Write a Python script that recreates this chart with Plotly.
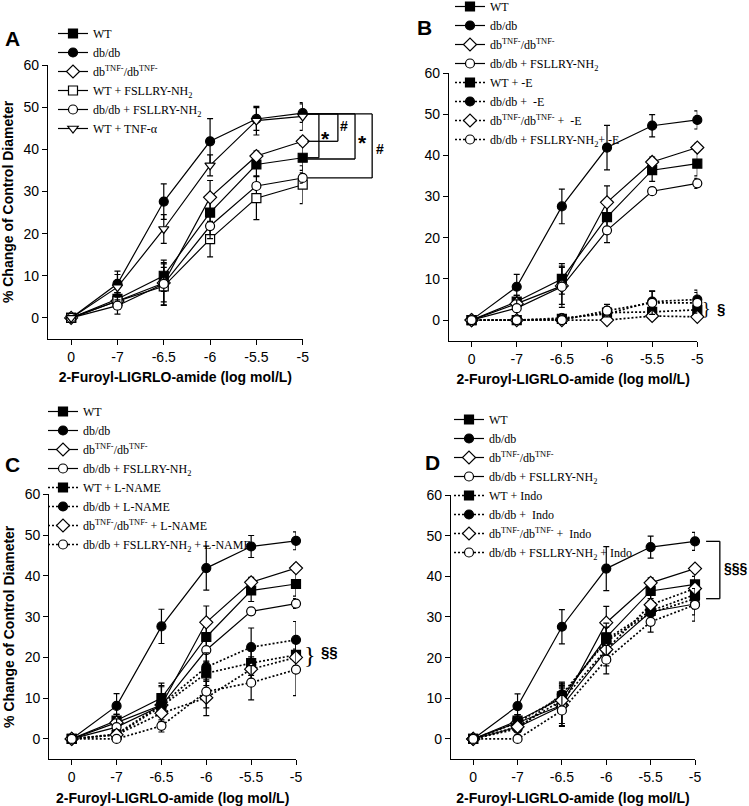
import plotly.graph_objects as go

W, H = 749, 806

# ---------------- data ----------------
x_idx = [0, 1, 2, 3, 4, 5]
x_labels = ["0", "-7", "-6.5", "-6", "-5.5", "-5"]

# common series (panels A-D)
wt = [0, 4.5, 10.0, 25.0, 36.4, 38.0]
wt_err = [0, 1.5, 3.7, 3.5, 2.7, 3.0]
dbdb = [0, 8.1, 27.6, 41.9, 47.2, 48.6]
dbdb_err = [0, 3.0, 4.2, 5.4, 2.7, 2.2]
dbtnf = [0, 4.0, 8.3, 28.6, 38.4, 41.9]
dbtnf_err = [0, 2.0, 4.5, 4.0, 1.2, 1.0]
dbdb_fs = [0, 2.9, 8.1, 21.8, 31.3, 33.2]
dbdb_fs_err = [0, 2.0, 5.0, 3.0, 0.8, 1.2]

# panel A extra
wt_fs = [0, 4.0, 7.5, 18.7, 28.4, 31.6]
wt_fs_err = [0, 2.0, 4.5, 4.2, 5.1, 4.5]
wt_tnf = [0, 7.3, 21.1, 36.2, 46.8, 47.8]
wt_tnf_err = [0, 3.0, 3.4, 2.5, 3.4, 3.3]

# panel B (-E)
wt_e = [0, 0, 0.3, 1.8, 2.0, 2.5]
wt_e_err = [0, 0.5, 0.5, 1.5, 1.5, 1.5]
dbdb_e = [0, 0, 0.5, 1.5, 4.5, 5.0]
dbdb_e_err = [0, 0.5, 0.5, 1.5, 2.6, 2.3]
dbtnf_e = [0, 0, 0, 0, 1.0, 0.8]
dbtnf_e_err = [0, 0.3, 0.3, 0.5, 0.8, 0.8]
dbdb_fs_e = [0, 0, 0, 2.3, 4.2, 4.2]
dbdb_fs_e_err = [0, 0.3, 0.5, 1.5, 2.8, 2.5]

# panel C (L-NAME)
wt_ln = [0, 1.0, 8.0, 16.1, 18.6, 20.6]
wt_ln_err = [0, 1.0, 2.0, 3.0, 3.0, 3.0]
dbdb_ln = [0, 1.2, 8.4, 17.6, 22.5, 24.3]
dbdb_ln_err = [0, 1.0, 2.0, 3.5, 4.7, 4.5]
dbtnf_ln = [0, 1.0, 6.3, 10.1, 17.1, 20.0]
dbtnf_ln_err = [0, 1.0, 2.0, 4.4, 3.0, 2.0]
dbdb_fs_ln = [0, 0, 3.2, 11.6, 13.8, 17.0]
dbdb_fs_ln_err = [0, 0.5, 1.5, 4.0, 4.2, 6.4]

# panel D (Indo)
wt_in = [0, 4.0, 10.5, 24.5, 31.5, 35.5]
wt_in_err = [0, 2.0, 3.0, 4.0, 3.0, 3.0]
dbdb_in = [0, 2.5, 11.0, 24.0, 31.0, 34.5]
dbdb_in_err = [0, 2.0, 3.0, 3.5, 3.0, 4.0]
dbtnf_in = [0, 3.0, 9.5, 22.0, 33.0, 37.0]
dbtnf_in_err = [0, 2.0, 3.0, 4.0, 3.0, 3.0]
dbdb_fs_in = [0, 0, 7.0, 19.5, 28.8, 33.0]
dbdb_fs_in_err = [0, 0.5, 3.7, 3.5, 2.5, 4.0]

TNF = "db<sup>TNF-</sup>/db<sup>TNF-</sup>"
FS = "FSLLRY-NH<sub>2</sub>"

# ---------------- layout geometry (pixels) ----------------
# left, right (x of category 5), top (y=60), bottom (y=-5)
geom = {
    1: (48, 302.7, 65, 339),
    2: (449, 697.3, 73, 340.7),
    3: (49.3, 296, 494.3, 759.3),
    4: (451, 695, 495, 759.3),
}
XR = [-0.5, 5]
YR = [-5, 60]

def dom_x(p):
    l, r, t, b = geom[p]
    return [l / W, r / W]

def dom_y(p):
    l, r, t, b = geom[p]
    return [1 - b / H, 1 - t / H]

def px(p, xv):
    d = dom_x(p)
    return d[0] + (xv - XR[0]) / (XR[1] - XR[0]) * (d[1] - d[0])

def py(p, yv):
    d = dom_y(p)
    return d[0] + (yv - YR[0]) / (YR[1] - YR[0]) * (d[1] - d[0])

fig = go.Figure()

def add(p, name, y, err, symbol, filled, dotted, legend):
    ax = "" if p == 1 else str(p)
    size = 10 if symbol.startswith("diamond") else 9
    fig.add_trace(go.Scatter(
        x=x_idx, y=y, name=name, mode="lines+markers",
        xaxis="x" + ax, yaxis="y" + ax, legend=legend,
        line=dict(color="black", width=1.7 if dotted else 1.2,
                  dash="2px,2px" if dotted else "solid"),
        marker=dict(symbol=symbol, size=size,
                    color="black" if filled else "white",
                    line=dict(color="black", width=1.2)),
        error_y=dict(type="data", array=err, visible=True, color="black",
                     thickness=1.2, width=3),
        cliponaxis=False,
    ))

def add_common(p, legend):
    add(p, "WT", wt, wt_err, "square", True, False, legend)
    add(p, "db/db", dbdb, dbdb_err, "circle", True, False, legend)
    add(p, TNF, dbtnf, dbtnf_err, "diamond", False, False, legend)

# Panel A
add(1, "WT", wt, wt_err, "square", True, False, "legend")
add(1, "db/db", dbdb, dbdb_err, "circle", True, False, "legend")
add(1, TNF, dbtnf, dbtnf_err, "diamond", False, False, "legend")
add(1, "WT + " + FS, wt_fs, wt_fs_err, "square", False, False, "legend")
add(1, "db/db + " + FS, dbdb_fs, dbdb_fs_err, "circle", False, False, "legend")
add(1, "WT + TNF-α", wt_tnf, wt_tnf_err, "triangle-down", False, False, "legend")

# Panel B
add_common(2, "legend2")
add(2, "db/db + " + FS, dbdb_fs, dbdb_fs_err, "circle", False, False, "legend2")
add(2, "WT + -E", wt_e, wt_e_err, "square", True, True, "legend2")
add(2, "db/db +  -E", dbdb_e, dbdb_e_err, "circle", True, True, "legend2")
add(2, TNF + " +  -E", dbtnf_e, dbtnf_e_err, "diamond", False, True, "legend2")
add(2, "db/db + " + FS + "+ -E", dbdb_fs_e, dbdb_fs_e_err, "circle", False, True, "legend2")

# Panel C
add_common(3, "legend3")
add(3, "db/db + " + FS, dbdb_fs, dbdb_fs_err, "circle", False, False, "legend3")
add(3, "WT + L-NAME", wt_ln, wt_ln_err, "square", True, True, "legend3")
add(3, "db/db + L-NAME", dbdb_ln, dbdb_ln_err, "circle", True, True, "legend3")
add(3, TNF + " + L-NAME", dbtnf_ln, dbtnf_ln_err, "diamond", False, True, "legend3")
add(3, "db/db + " + FS + " + L-NAME", dbdb_fs_ln, dbdb_fs_ln_err, "circle", False, True, "legend3")

# Panel D
add_common(4, "legend4")
add(4, "db/db + " + FS, dbdb_fs, dbdb_fs_err, "circle", False, False, "legend4")
add(4, "WT + Indo", wt_in, wt_in_err, "square", True, True, "legend4")
add(4, "db/db +  Indo", dbdb_in, dbdb_in_err, "circle", True, True, "legend4")
add(4, TNF + " +  Indo", dbtnf_in, dbtnf_in_err, "diamond", False, True, "legend4")
add(4, "db/db + " + FS + " + Indo", dbdb_fs_in, dbdb_fs_in_err, "circle", False, True, "legend4")

SANS = "Liberation Sans, Arial, sans-serif"
SERIF = "Liberation Serif, Times New Roman, serif"

layout = dict(
    template="none",
    width=W, height=H, autosize=False,
    margin=dict(l=0, r=0, t=0, b=0, autoexpand=False),
    paper_bgcolor="white", plot_bgcolor="white",
    font=dict(family=SANS, size=14, color="black"),
    showlegend=True,
)

for p in (1, 2, 3, 4):
    ax = "" if p == 1 else str(p)
    xa = dict(domain=dom_x(p), range=XR, anchor="y" + ax, automargin=False,
              tickmode="array", tickvals=x_idx, ticktext=x_labels,
              showline=True, linecolor="black", linewidth=1.3,
              ticks="outside", ticklen=5, tickwidth=1.2, tickcolor="black",
              showgrid=False, zeroline=False,
              tickfont=dict(family=SANS, size=14),
              title=dict(text="<b>2-Furoyl-LIGRLO-amide (log mol/L)</b>",
                         font=dict(family=SANS, size=14), standoff=8))
    ya = dict(domain=dom_y(p), range=YR, anchor="x" + ax, automargin=False,
              tickmode="array", tickvals=[0, 10, 20, 30, 40, 50, 60],
              showline=True, linecolor="black", linewidth=1.3,
              ticks="outside", ticklen=5, tickwidth=1.2, tickcolor="black",
              showgrid=False, zeroline=False,
              tickfont=dict(family=SANS, size=14))
    if p in (1, 3):
        ya["title"] = dict(text="<b>% Change of Control Diameter</b>",
                           font=dict(family=SANS, size=14), standoff=6)
    layout["xaxis" + ax] = xa
    layout["yaxis" + ax] = ya

def leg(left_px, top_px):
    return dict(x=left_px / W, y=1 - top_px / H, xanchor="left", yanchor="top",
                bgcolor="rgba(0,0,0,0)", borderwidth=0,
                font=dict(family=SERIF, size=12, color="black"),
                tracegroupgap=0)

layout["legend"] = leg(53, 19)
layout["legend2"] = leg(450, -8)
layout["legend3"] = leg(43, 397)
layout["legend4"] = leg(449, 405)

fig.update_layout(**layout)

# ---------------- annotations ----------------
ann = []
for lab, xx, yy in (("A", 12, 38), ("B", 424, 27), ("C", 12, 465), ("D", 432, 462)):
    ann.append(dict(text="<b>%s</b>" % lab, x=xx / W, y=1 - yy / H, xref="paper", yref="paper",
                    showarrow=False, xanchor="center", yanchor="middle",
                    font=dict(family=SANS, size=21, color="black")))

shapes = []
def line(x0, y0, x1, y1):
    shapes.append(dict(type="line", xref="paper", yref="paper", x0=x0, y0=y0, x1=x1, y1=y1,
                       line=dict(color="black", width=1.3)))

def bracket(p, xs, xv, ytop, ybot):
    line(px(p, xs), py(p, ytop), px(p, xv), py(p, ytop))
    line(px(p, xv), py(p, ytop), px(p, xv), py(p, ybot))
    line(px(p, xv), py(p, ybot), px(p, xs), py(p, ybot))

# Panel A brackets (db/db top vs others)
top_a = 48.4
for xv, yb, sym, sx, sy in ((5.35, wt[5], "*", 5.5, 42.5),
                            (5.76, dbtnf[5], "#", 5.9, 45.5),
                            (6.13, wt[5] - 0.3, "*", 6.3, 41.5),
                            (6.50, dbdb_fs[5], "#", 6.67, 40.0)):
    bracket(1, 5.1, xv, top_a, yb)
    ann.append(dict(text="<b>%s</b>" % sym, x=px(1, sx), y=py(1, sy), xref="paper", yref="paper",
                    showarrow=False, xanchor="center", yanchor="middle",
                    font=dict(family=SANS, size=21 if sym == "*" else 14, color="black")))

# Panel B brace
ann.append(dict(text="}", x=px(2, 5.2), y=py(2, 2.7), xref="paper", yref="paper",
                showarrow=False, xanchor="center", yanchor="middle",
                font=dict(family=SERIF, size=18, color="black")))
ann.append(dict(text="<b>§</b>", x=px(2, 5.52), y=py(2, 2.7), xref="paper", yref="paper",
                showarrow=False, xanchor="center", yanchor="middle",
                font=dict(family=SANS, size=15, color="black")))
# Panel C brace
ann.append(dict(text="}", x=px(3, 5.32), y=py(3, 20.5), xref="paper", yref="paper",
                showarrow=False, xanchor="center", yanchor="middle",
                font=dict(family=SERIF, size=24, color="black")))
ann.append(dict(text="<b>§§</b>", x=px(3, 5.75), y=py(3, 21.5), xref="paper", yref="paper",
                showarrow=False, xanchor="center", yanchor="middle",
                font=dict(family=SANS, size=15, color="black")))
# Panel D bracket
bracket(4, 5.25, 5.56, dbdb[5], dbdb_in[5])
ann.append(dict(text="<b>§§§</b>", x=736 / W, y=py(4, 42.0), xref="paper", yref="paper",
                showarrow=False, xanchor="center", yanchor="middle",
                font=dict(family=SANS, size=14, color="black")))

fig.update_layout(annotations=ann, shapes=shapes)

fig.write_html("out.html", config={"displayModeBar": False},
               post_script="document.body.style.margin='0';document.body.style.padding='0';")
